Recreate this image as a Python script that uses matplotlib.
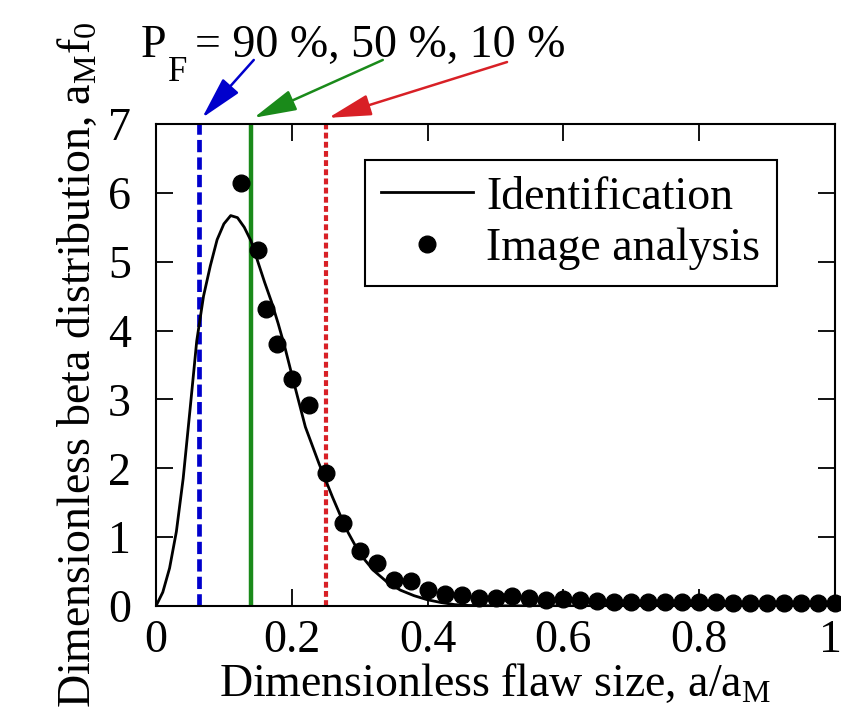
import matplotlib
matplotlib.use("Agg")
import matplotlib.pyplot as plt
import matplotlib.transforms as mtransforms

plt.rcParams["font.family"] = ["Liberation Serif", "DejaVu Serif"]
plt.rcParams["mathtext.fontset"] = "custom"
plt.rcParams["mathtext.rm"] = "Liberation Serif"
plt.rcParams["mathtext.it"] = "Liberation Serif"
plt.rcParams["font.size"] = 33

# identified beta distribution
curve_x = [0, 0.01, 0.02, 0.03, 0.04, 0.05, 0.06, 0.07, 0.08, 0.09, 0.10,
           0.11, 0.12, 0.13, 0.14, 0.15, 0.16, 0.17, 0.18, 0.19, 0.20,
           0.22, 0.24, 0.26, 0.28, 0.30, 0.32, 0.34, 0.36, 0.38, 0.40,
           0.42, 0.44, 0.46, 0.50, 0.60, 0.70, 0.80, 0.90, 1.0]
curve_y = [0, 0.2, 0.55, 1.08, 1.85, 2.84, 3.85, 4.5, 4.94, 5.32, 5.55,
           5.67, 5.64, 5.5, 5.3, 5.0, 4.7, 4.42, 4.1, 3.75, 3.36,
           2.6, 2.07, 1.58, 1.12, 0.76, 0.52, 0.35, 0.23, 0.15, 0.09,
           0.05, 0.02, 0.008, 0.003, 0, 0, 0, 0, 0]

# image analysis points
dots_x = [0.125, 0.15, 0.1625, 0.178, 0.2, 0.225, 0.25, 0.275, 0.3, 0.325,
          0.35, 0.375, 0.4, 0.425, 0.45, 0.475, 0.5, 0.525, 0.55, 0.575,
          0.6, 0.625, 0.65, 0.675, 0.7, 0.725, 0.75, 0.775, 0.8, 0.825,
          0.85, 0.875, 0.9, 0.925, 0.95, 0.975, 1.0]
dots_y = [6.14, 5.17, 4.31, 3.80, 3.29, 2.92, 1.93, 1.21, 0.80, 0.63,
          0.38, 0.37, 0.23, 0.17, 0.16, 0.12, 0.11, 0.14, 0.11, 0.09,
          0.10, 0.085, 0.075, 0.06, 0.06, 0.06, 0.055, 0.055, 0.06, 0.055,
          0.05, 0.05, 0.05, 0.045, 0.045, 0.045, 0.05]

# failure probability quantiles
pf_x = [0.064, 0.140, 0.250]
pf_col = ["#0000cc", "#1a8a1a", "#d82026"]
arrow_from = [(0.144, 7.93), (0.334, 7.93), (0.517, 7.90)]

fig = plt.figure(figsize=(8.41, 7.15), dpi=100)
ax = fig.add_axes([156/841, 1-606/715, 679/841, 482/715])

ax.plot(curve_x, curve_y, color="black", lw=2, label="Identification", zorder=3)
ax.plot(dots_x, dots_y, "o", color="black", ms=12, label="Image analysis",
        zorder=4, clip_on=False)

ax.axvline(pf_x[0], color=pf_col[0], lw=3.4, dashes=(2.6, 1.1), zorder=2)
ax.axvline(pf_x[1], color=pf_col[1], lw=3.2, zorder=2)
ax.axvline(pf_x[2], color=pf_col[2], lw=3.0, dashes=(1.4, 0.8), zorder=2)

for xs, c, src in zip(pf_x, pf_col, arrow_from):
    ax.annotate("", xy=(xs + 0.004, 7.09), xytext=src, annotation_clip=False,
                arrowprops=dict(arrowstyle="-|>,head_length=0.8,head_width=0.2",
                                color=c, lw=1.8, shrinkA=0, shrinkB=0))

ax.set_xlim(0, 1)
ax.set_ylim(0, 7)
ax.set_xticks([0, 0.2, 0.4, 0.6, 0.8, 1.0])
ax.set_xticklabels(["0", "0.2", "0.4", "0.6", "0.8", "1"])
ax.set_yticks(range(8))
ax.tick_params(direction="in", length=12, width=1.3, top=True, right=True)
ax.tick_params(axis="x", pad=10)
ax.tick_params(axis="y", pad=18)
for s in ax.spines.values():
    s.set_linewidth(1.5)

# pull the last tick label in a little so it stays on the canvas
last = ax.get_xticklabels()[-1]
last.set_transform(last.get_transform() +
                   mtransforms.ScaledTranslation(-5/100, 0, fig.dpi_scale_trans))

ax.set_xlabel(r"Dimensionless flaw size, a/a$_\mathrm{M}$", labelpad=0)
ax.set_ylabel(r"Dimensionless beta distribution, a$_\mathrm{M}$f$_0$", labelpad=6)

fig.text(141/841, 1-57/715, "P", fontsize=33)
fig.text(168/841, 1-81/715, "F", fontsize=25)
fig.text(195/841, 1-57/715, "= 90 %, 50 %, 10 %", fontsize=33)

leg = ax.legend(loc="upper left", bbox_to_anchor=(365/841, 1-160/715),
                bbox_transform=fig.transFigure, borderaxespad=0,
                fancybox=False, edgecolor="black", framealpha=1,
                handlelength=2.0, handletextpad=0.3, labelspacing=0.2,
                borderpad=0.35)
leg.get_frame().set_linewidth(1.5)

plt.savefig("out.png", dpi=100)
